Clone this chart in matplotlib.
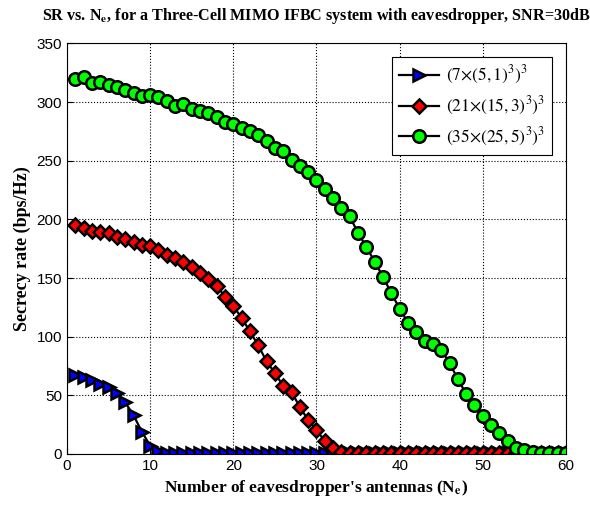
import numpy as np
import matplotlib
matplotlib.use("Agg")
import matplotlib.pyplot as plt

plt.rcParams['mathtext.fontset'] = 'stix'

# eavesdropper antennas
ne = list(range(1, 61))

# (7x(5,1)^3)^3
sr_7 = [67, 66, 63, 60, 57, 52, 44, 33, 19, 7, 2.5, 1.2] + [0.6] * 48

# (21x(15,3)^3)^3
sr_21 = [195, 193, 190.5, 189, 188, 185, 183, 180.5, 178.5, 177,
         173.5, 170, 167, 164, 159.5, 154, 149.5, 143.5, 134, 126,
         116, 104.5, 92.5, 79, 69, 58, 53, 40, 29, 20.5,
         11, 5, 2, 1] + [0.6] * 26

# (35x(25,5)^3)^3
sr_35 = [320, 321, 316, 317, 314.5, 312.5, 310, 308, 305.5, 306,
         304, 300.5, 297, 298, 294, 292.5, 290.5, 287, 283, 281,
         277.5, 275.5, 272, 267, 261, 258, 251, 245.5, 240.5, 233.5,
         225.5, 218, 210, 202.5, 188.5, 176.5, 164, 151, 137, 124,
         112, 104, 96, 94, 89, 77.5, 64, 51, 42, 32,
         25, 17.5, 11, 5.5, 3, 1.5, 1.2, 1.2, 1.2, 1.2]

fig = plt.figure(figsize=(5.9, 5.05), dpi=100)
ax = fig.add_axes([0.1136, 0.101, 0.8456, 0.813])

ax.plot(ne, sr_7, '-', color='black', lw=1.6, marker='>', ms=8,
        mfc='blue', mec='black', mew=1.8, label=r'$\mathrm{(7{\times}(5,1)^3)^3}$')
ax.plot(ne, sr_21, '-', color='black', lw=1.6, marker='D', ms=7,
        mfc='red', mec='black', mew=1.8, label=r'$\mathrm{(21{\times}(15,3)^3)^3}$')
ax.plot(ne, sr_35, '-', color='black', lw=1.6, marker='o', ms=9,
        mfc='#00ff00', mec='black', mew=1.8, label=r'$\mathrm{(35{\times}(25,5)^3)^3}$')

ax.set_xlim(0, 60)
ax.set_ylim(0, 350)
ax.set_xticks(range(0, 61, 10))
ax.set_yticks(range(0, 351, 50))
ax.tick_params(labelsize=11, direction='in', length=4)
for lab in ax.get_xticklabels() + ax.get_yticklabels():
    lab.set_family('Liberation Sans')
ax.grid(True, color='black', linestyle=':', linewidth=0.8)
for s in ax.spines.values():
    s.set_linewidth(0.8)

ax.set_title(r"SR vs. N$_\mathbf{e}$, for a Three-Cell MIMO IFBC system with eavesdropper, SNR=30dB",
             fontsize=11.6, fontweight='bold', family='Liberation Serif', pad=17)
ax.set_xlabel(r"Number of eavesdropper's antennas (N$_\mathbf{e}$)",
              fontsize=12.5, fontweight='bold', family='Liberation Serif')
ax.set_ylabel("Secrecy rate (bps/Hz)", fontsize=13, fontweight='bold',
              family='Liberation Serif')

leg = ax.legend(loc='upper right', fontsize=12.5, fancybox=False, framealpha=1,
                edgecolor='black', handlelength=2.3, handletextpad=0.4,
                borderaxespad=0.8)
leg.get_frame().set_linewidth(0.8)

fig.savefig('out.png', dpi=100)
